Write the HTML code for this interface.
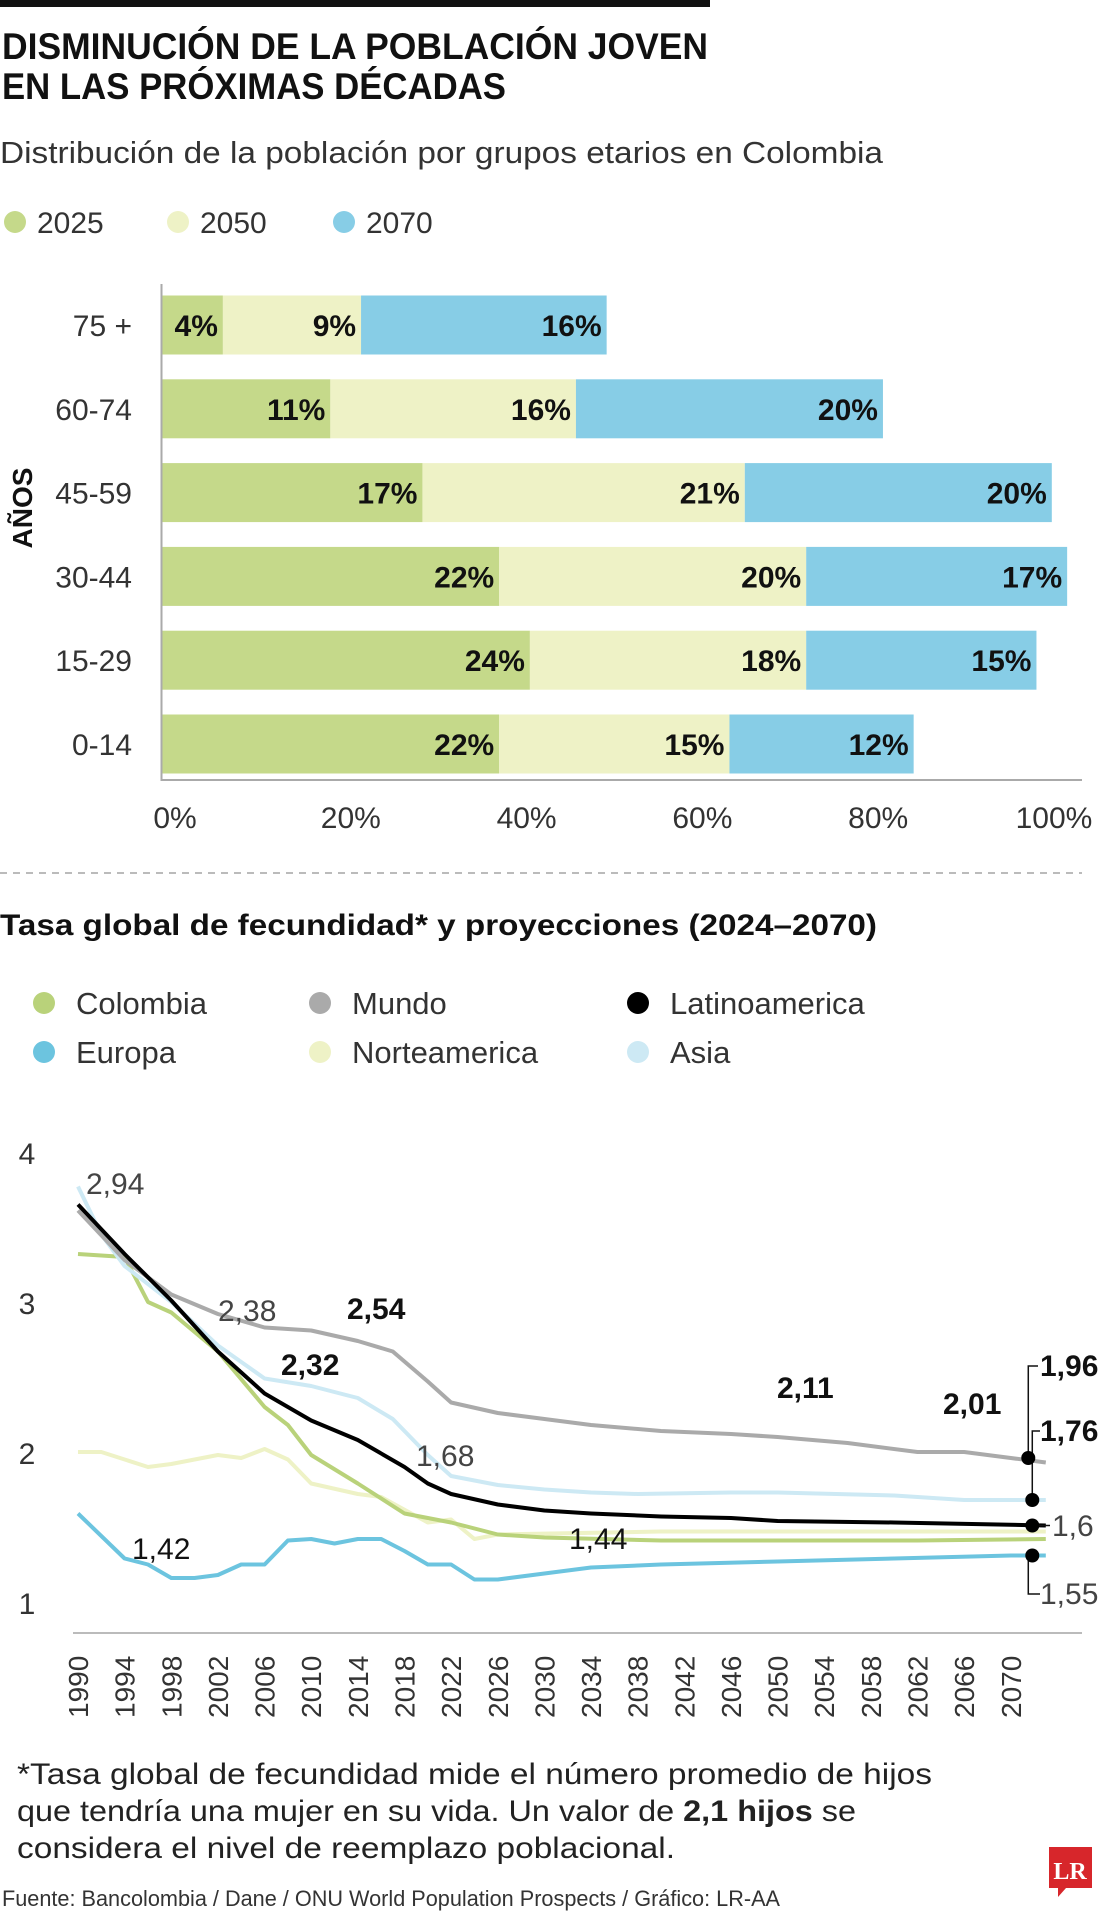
<!DOCTYPE html>
<html><head><meta charset="utf-8"><style>
body{margin:0;background:#fff;}
svg{display:block;font-family:"Liberation Sans",sans-serif;}
</style></head><body>
<svg id="s" width="1107" height="1920" viewBox="0 0 1107 1920" xmlns="http://www.w3.org/2000/svg">
<rect x="0" y="0" width="710" height="7" fill="#111"/>
<text x="2" y="59" font-size="37" font-weight="bold" fill="#111" textLength="706" lengthAdjust="spacingAndGlyphs">DISMINUCIÓN DE LA POBLACIÓN JOVEN</text>
<text x="2" y="99" font-size="37" font-weight="bold" fill="#111" textLength="504" lengthAdjust="spacingAndGlyphs">EN LAS PRÓXIMAS DÉCADAS</text>
<text x="0" y="163" font-size="31" fill="#333" textLength="883" lengthAdjust="spacingAndGlyphs">Distribución de la población por grupos etarios en Colombia</text>
<g>
<circle cx="15" cy="222" r="11" fill="#c5d98a"/>
<text x="37" y="233" font-size="30" fill="#333">2025</text>
<circle cx="178" cy="222" r="11" fill="#eef2c6"/>
<text x="200" y="233" font-size="30" fill="#333">2050</text>
<circle cx="344" cy="222" r="11" fill="#87cde6"/>
<text x="366" y="233" font-size="30" fill="#333">2070</text>
</g>
<g id="bars"></g>
<line x1="0" y1="873" x2="1082" y2="873" stroke="#bbb" stroke-width="2" stroke-dasharray="7,6"/>
<text x="0" y="935" font-size="30" font-weight="bold" fill="#111" textLength="877" lengthAdjust="spacingAndGlyphs">Tasa global de fecundidad* y proyecciones (2024–2070)</text>
<g id="lleg"></g>
<g id="lines"></g>
<text x="17" y="1784" font-size="30" fill="#222" textLength="915" lengthAdjust="spacingAndGlyphs">*Tasa global de fecundidad mide el número promedio de hijos</text>
<text x="17" y="1821" font-size="30" fill="#222" textLength="839" lengthAdjust="spacingAndGlyphs">que tendría una mujer en su vida. Un valor de <tspan font-weight="bold">2,1 hijos</tspan> se</text>
<text x="17" y="1858" font-size="30" fill="#222" textLength="658" lengthAdjust="spacingAndGlyphs">considera el nivel de reemplazo poblacional.</text>
<text x="2" y="1906" font-size="22" fill="#333" textLength="778" lengthAdjust="spacingAndGlyphs">Fuente: Bancolombia / Dane / ONU World Population Prospects / Gráfico: LR-AA</text>
<g>
<path d="M1049 1847 H1092 V1888 H1066 L1058 1897 V1888 H1049 Z" fill="#d7262b"/>
<text x="1070" y="1879" font-size="24" font-weight="bold" font-family="Liberation Serif,serif" fill="#fff" text-anchor="middle">LR</text>
</g>
</svg>
<script>
const NS="http://www.w3.org/2000/svg";
const ageGroups=["75 +","60-74","45-59","30-44","15-29","0-14"];
const v2025=[4,11,17,22,24,22];
const v2050=[9,16,21,20,18,15];
const v2070=[16,20,20,17,15,12];
const pctTicks=["0%","20%","40%","60%","80%","100%"];

const years=[1990,1994,1998,2002,2006,2010,2014,2018,2022,2026,2030,2034,2038,2042,2046,2050,2054,2058,2062,2066,2070];
const mundoX=[1990,1994,1998,2002,2006,2010,2014,2017,2020,2022,2026,2030,2034,2040,2046,2050,2056,2062,2066,2070,2073];
const mundoY=[3.61,3.28,3.05,2.92,2.83,2.81,2.74,2.67,2.47,2.33,2.26,2.22,2.18,2.14,2.12,2.10,2.06,2.0,2.0,1.96,1.93];
const latamX=[1990,1994,1998,2002,2006,2010,2014,2018,2020,2022,2026,2030,2034,2040,2046,2050,2060,2073];
const latamY=[3.65,3.32,3.01,2.67,2.39,2.21,2.08,1.90,1.79,1.72,1.65,1.61,1.59,1.57,1.56,1.54,1.53,1.51];
const asiaX=[1990,1992,1994,1998,2002,2006,2010,2014,2017,2020,2022,2026,2030,2034,2038,2046,2050,2060,2066,2073];
const asiaY=[3.77,3.45,3.24,3.0,2.71,2.49,2.44,2.36,2.22,1.98,1.84,1.78,1.75,1.73,1.72,1.73,1.73,1.71,1.68,1.68];
const colX=[1990,1994,1996,1998,2002,2006,2008,2010,2014,2018,2022,2026,2030,2040,2050,2062,2073];
const colY=[3.32,3.30,3.0,2.93,2.67,2.30,2.18,1.98,1.79,1.59,1.53,1.45,1.43,1.41,1.41,1.41,1.42];
const naX=[1990,1992,1996,1998,2002,2004,2006,2008,2010,2014,2016,2020,2022,2024,2026,2040,2073];
const naY=[2.0,2.0,1.90,1.92,1.98,1.96,2.02,1.95,1.79,1.72,1.70,1.53,1.55,1.42,1.45,1.47,1.47];
const euX=[1990,1994,1996,1998,2000,2002,2004,2006,2008,2010,2012,2014,2016,2018,2020,2022,2024,2026,2030,2034,2040,2050,2060,2070,2073];
const euY=[1.59,1.29,1.25,1.16,1.16,1.18,1.25,1.25,1.41,1.42,1.39,1.42,1.42,1.34,1.25,1.25,1.15,1.15,1.19,1.23,1.25,1.27,1.29,1.31,1.31];
const yTicks=[4,3,2,1];

function el(tag,attrs,parent,txt){const e=document.createElementNS(NS,tag);for(const k in attrs)e.setAttribute(k,attrs[k]);if(txt!==undefined)e.textContent=txt;parent.appendChild(e);return e;}

// ---- bar chart
const bg=document.getElementById('bars');
const bx0=161.5,bk=15.35,rowY0=325,rowStep=83.8,bh=59;
const colors=["#c5d98a","#eef2c6","#87cde6"];
const series=[v2025,v2050,v2070];
const sNames=["2025","2050","2070"];
ageGroups.forEach((g,i)=>{
  const cy=rowY0+i*rowStep;
  const t=el('text',{x:132,y:cy+11,'font-size':30,fill:'#333','text-anchor':'end'},bg,g);
  
  
  let acc=0;
  series.forEach((s,j)=>{
    const x=bx0+acc*bk,w=s[i]*bk;
    const r=el('rect',{x:x,y:cy-bh/2,width:w,height:bh,fill:colors[j]},bg);
    
    
    acc+=s[i];
    const lt=el('text',{x:x+w-5,y:cy+11,'font-size':30,'font-weight':'bold',fill:'#111','text-anchor':'end'},bg,s[i]+'%');
    
    
  });
});
const ax=el('path',{d:'M161.5 284 V780 H1082',stroke:'#aaa','stroke-width':2,fill:'none'},bg);


pctTicks.forEach((p,i)=>{
  const t=el('text',{x:175+i*175.8,y:828,'font-size':30,fill:'#333','text-anchor':'middle'},bg,p);
  
  
});
const yt=el('text',{transform:'translate(32,508) rotate(-90)','font-size':28,'font-weight':'bold',fill:'#111','text-anchor':'middle'},bg,'AÑOS');



// ---- line legend
const lg=document.getElementById('lleg');
const legItems=[["Colombia","#b9d27a",44,1003],["Mundo","#aaaaaa",320,1003],["Latinoamerica","#000",638,1003],["Europa","#6cc4df",44,1052],["Norteamerica","#eef2c6",320,1052],["Asia","#cde9f4",638,1052]];
legItems.forEach(it=>{
  const c=el('circle',{cx:it[2],cy:it[3],r:11,fill:it[1]},lg);
  
  
  const t=el('text',{x:it[2]+32,y:it[3]+11,'font-size':31,fill:'#333'},lg,it[0]);
  
  
});

// ---- line chart
const lc=document.getElementById('lines');
const X=y=>78+(y-1990)*11.66;
const Y=v=>1152+(4-v)*150;
yTicks.forEach(v=>{
  const t=el('text',{x:27,y:Y(v)+12,'font-size':30,fill:'#333','text-anchor':'middle'},lc,String(v));
  
  
});
const base=el('line',{x1:73,y1:1633,x2:1082,y2:1633,stroke:'#bbb','stroke-width':2},lc);


years.forEach(y=>{
  const t=el('text',{transform:`translate(${X(y)+10},1718) rotate(-90)`,'font-size':28,fill:'#333'},lc,String(y));
  
  
});
const lineDefs=[[naX,naY,"#eef2c6","line-norteamerica"],[colX,colY,"#b9d27a","line-colombia"],[euX,euY,"#6cc4df","line-europa"],[asiaX,asiaY,"#cde9f4","line-asia"],[mundoX,mundoY,"#aaaaaa","line-mundo"],[latamX,latamY,"#000","line-latinoamerica"]];
lineDefs.forEach(d=>{
  const pts=d[0].map((x,i)=>X(x).toFixed(1)+','+Y(d[1][i]).toFixed(1)).join(' ');
  const p=el('polyline',{points:pts,fill:'none',stroke:d[2],'stroke-width':4,'stroke-linejoin':'round'},lc);
  
  
});
// end dots + brackets
const dx=X(2071.5);
const dots=[[mundoY[mundoY.length-2]],[asiaY[asiaY.length-1]],[latamY[latamY.length-1]],[euY[euY.length-1]]];
const brk=el('path',{d:`M${dx} ${Y(mundoY[mundoY.length-2])} V1366 H1038 M${dx+4} ${Y(asiaY[asiaY.length-1])} V1431 H1040 M${dx+4} ${Y(latamY[latamY.length-1])} H1050 M${dx} ${Y(euY[euY.length-1])} V1594 H1040`,stroke:'#111','stroke-width':1.5,fill:'none'},lc);


dots.forEach((d,i)=>{
  const c=el('circle',{cx:i===0?dx:dx+4,cy:Y(d[0]),r:7,fill:'#000'},lc);
  
  
});
const ann=[["2,94",86,1194,false],["2,38",218,1321,false],["2,54",347,1319,true],["2,32",281,1375,true],["1,68",416,1466,false],["1,42",132,1559,"m"],["1,44",569,1549,"m"],["2,11",777,1398,true],["2,01",943,1414,true],["1,96",1040,1376,true],["1,76",1040,1441,true],["1,6",1052,1536,false],["1,55",1040,1604,false]];
ann.forEach(a=>{
  const t=el('text',{x:a[1],y:a[2],'font-size':30,'font-weight':a[3]===true?'bold':'normal',fill:a[3]===false?'#444':'#111'},lc,a[0]);
  
  
});
</script>
</body></html>
